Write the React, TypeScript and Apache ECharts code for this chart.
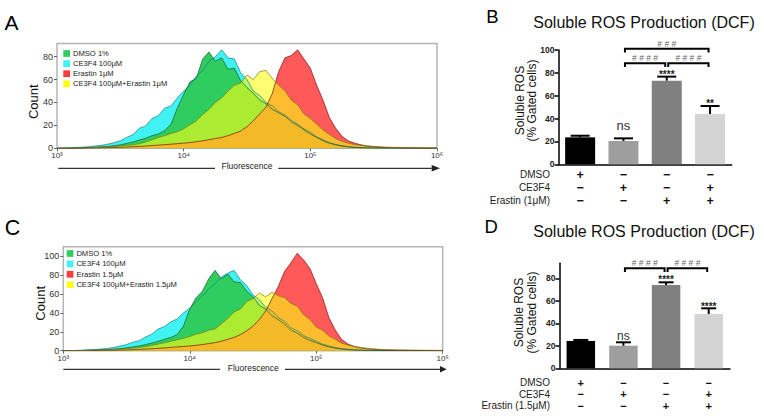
import React, { useEffect, useRef } from 'react';
import * as echarts from 'echarts';

const FONT = 'Liberation Sans, Arial, DejaVu Sans, sans-serif';

// Fluorescence bin centres (log-spaced)
const fluorBins = [1000, 1122, 1259, 1413, 1585, 1778, 1995, 2239, 2512, 2818, 3162, 3548, 3981, 4467, 5012, 5623, 6310, 7079, 7943, 8913, 10000, 11220, 12589, 14125, 15849, 17783, 19953, 22387, 25119, 28184, 31623, 35481, 39811, 44668, 50119, 56234, 63096, 70795, 79433, 89125, 100000, 112202, 125893, 141254, 158489, 177828, 199526, 223872, 251189, 281838, 316228, 354813, 398107, 446684, 501187, 562341, 630957, 707946, 794328, 891251, 1000000];
const xTickLabels = ['10³', '10⁴', '10⁵', '10⁶'];
const countTicksA = [0, 20, 40, 60, 80];
const countTicksC = [0, 20, 40, 60, 80, 100];
const rosTicksB = [0, 20, 40, 60, 80, 100];
const rosTicksD = [0, 20, 40, 60, 80];

const namesA = ['DMSO 1%', 'CE3F4 100μM', 'Erastin 1μM', 'CE3F4 100μM+Erastin 1μM'];
const namesC = ['DMSO 1%', 'CE3F4 100μM', 'Erastin 1.5μM', 'CE3F4 100μM+Erastin 1.5μM'];

// Panel A histograms
const dmsoA = [0, 0, 0, 0.2, 0.4, 0.6, 0.9, 1.3, 1.6, 2.3, 3, 4.2, 5.5, 7.2, 8.8, 11, 12.5, 15.5, 21, 35, 47, 58, 61, 78, 84, 76, 79, 69, 70, 59, 53, 48, 42, 39, 34, 31, 28, 23, 20, 16, 12.5, 9.5, 6.5, 4.5, 3, 2, 1.2, 0.8, 0.5, 0.4, 0.3, 0.2, 0.2, 0.2, 0.1, 0.1, 0.1, 0.1, 0, 0, 0];
const ce3f4A = [0, 0.2, 0.5, 0.7, 1, 1.4, 2, 2.6, 3.6, 4.8, 6.5, 9.5, 12, 17.5, 19.5, 26, 28.5, 35, 37, 44, 50, 55, 63, 68, 76, 80, 86, 79, 78, 66, 60, 50, 46, 40, 37, 32, 29, 24.5, 21, 17, 14, 10, 7.5, 5, 3.4, 2.2, 1.4, 0.9, 0.6, 0.4, 0.3, 0.2, 0.2, 0.2, 0.1, 0.1, 0.1, 0.1, 0, 0, 0];
const erastinA = [0, 0, 0, 0, 0.1, 0.2, 0.3, 0.4, 0.5, 0.7, 0.9, 1.1, 1.4, 1.7, 2, 2.4, 2.8, 3.2, 3.6, 4, 4.5, 5, 5.8, 6.5, 7.5, 8.5, 9.5, 11, 13, 15, 19, 24, 30, 36, 48, 67, 79, 81, 86, 78, 70, 55, 42, 27, 17.5, 10.5, 6.5, 4.5, 3, 2, 1.5, 1, 0.7, 0.5, 0.4, 0.3, 0.2, 0.2, 0.1, 0.1, 0];
const comboA = [0, 0, 0.1, 0.2, 0.3, 0.5, 0.7, 0.9, 1.2, 1.5, 2, 2.5, 3, 4, 5.5, 7.5, 9.5, 11, 13, 14.5, 17, 20.5, 24, 29.5, 34, 40, 44, 50, 55, 57, 64, 60, 67, 68, 61, 55, 50, 42, 38, 30, 26, 21, 16, 12, 8.5, 6, 4.5, 3.2, 2.5, 2, 1.6, 1.3, 1, 0.9, 0.8, 0.7, 0.6, 0.5, 0.5, 0.4, 0.3];

// Panel C histograms
const dmsoC = [0, 0, 0, 0.2, 0.4, 0.6, 0.9, 1.2, 1.6, 2.2, 3, 4, 5, 6.5, 8, 10, 12, 14, 17, 26, 44, 56, 63, 76, 85, 76, 81, 73, 72, 63, 57, 48, 44, 37, 33, 28, 22, 18.5, 14, 11, 8.5, 6, 4, 2.7, 1.8, 1.2, 0.7, 0.5, 0.3, 0.2, 0.2, 0.2, 0.2, 0.1, 0.1, 0.1, 0.1, 0, 0, 0, 0];
const ce3f4C = [0, 0, 0.3, 0.6, 1, 1.3, 1.8, 2.4, 3.5, 5, 6.5, 9, 10.5, 14.5, 17.5, 23, 25.5, 30.5, 33.5, 40, 45, 52, 58, 65, 71, 78, 82, 85, 75, 69, 59, 54, 46, 42, 35, 31, 24.5, 21, 16, 13, 10, 7, 5, 3.3, 2.2, 1.4, 0.9, 0.6, 0.4, 0.3, 0.2, 0.2, 0.2, 0.1, 0.1, 0.1, 0.1, 0, 0, 0, 0];
const erastinC = [0, 0, 0, 0, 0.1, 0.2, 0.3, 0.4, 0.5, 0.7, 0.9, 1.1, 1.4, 1.7, 2.1, 2.5, 3, 3.5, 4, 4.5, 5, 5.7, 6.5, 7.5, 8.5, 10, 12, 14, 17, 21, 26, 33, 42, 55, 68, 84, 93, 103, 96, 87, 71, 56, 35, 22, 12, 7, 4.5, 3, 2, 1.5, 1.1, 0.8, 0.6, 0.4, 0.3, 0.2, 0.2, 0.1, 0.1, 0, 0];
const comboC = [0, 0, 0.1, 0.2, 0.3, 0.5, 0.7, 0.9, 1.2, 1.6, 2.1, 2.7, 3.4, 4.3, 5.5, 7, 8.5, 10, 11.5, 13, 15, 17.5, 19, 21.5, 23, 28.5, 34, 41, 44, 52, 55, 61, 57, 62, 58, 56, 50, 47, 38, 33, 25, 21.5, 15.5, 12, 8, 6, 4.5, 3.5, 2.6, 2, 1.5, 1.2, 1, 0.9, 0.8, 0.7, 0.6, 0.5, 0.5, 0.4, 0.3];

// Bar panels
const treatmentRowsB = ['DMSO', 'CE3F4', 'Erastin (1μM)'];
const treatmentRowsD = ['DMSO', 'CE3F4', 'Erastin (1.5μM)'];
const dmsoSigns = ['+', '−', '−', '−'];
const ce3f4Signs = ['−', '+', '−', '+'];
const erastinSigns = ['−', '−', '+', '+'];
const barColors = ['#000000', '#9e9e9e', '#808080', '#d4d4d4'];

const rosB = [23.6, 20.4, 73.2, 44.0];
const rosErrB = [1.4, 2.3, 3.5, 7.0];
const rosD = [24.3, 20.1, 74.0, 48.3];
const rosErrD = [0.9, 3.0, 2.4, 5.0];
const sigTextB = ['', 'ns', '****', '**'];
const sigYB = [0, 34, 78.3, 52.8];
const sigTextD = ['', 'ns', '****', '****'];
const sigYD = [0, 28.3, 78.5, 54.5];
// [from, to, line level, label level]
const bracketsB = [[1, 2, 88.4, 92.7], [2, 3, 88.4, 92.7], [1, 3, 101.1, 105.5]];
const bracketLabelsB = ['# # # #', '# # # #', '# # #'];
const bracketsD = [[1, 2, 88.9, 93.2], [2, 3, 88.9, 93.2]];
const bracketLabelsD = ['# # # #', '# # # #'];

const categories = dmsoSigns.map((s, i) => [s, ce3f4Signs[i], erastinSigns[i]].join('\n'));

const histStyle = {
  dmso: { color: '#2fcc5f', line: '#145a2b', opacity: 1 },
  ce3f4: { color: '#40f2f2', line: '#168080', opacity: 1 },
  erastin: { color: '#ff3c3c', line: '#7a1010', opacity: 0.85 },
  combo: { color: '#ffff14', line: '#7a7a10', opacity: 0.6 },
};

function histSeries(name: string, values: number[], st: any, xi: number, yi: number) {
  return {
    type: 'line', name, xAxisIndex: xi, yAxisIndex: yi, silent: true,
    data: fluorBins.map((f, i) => [f, values[i]]),
    symbol: 'none', showSymbol: false,
    itemStyle: { color: st.color },
    lineStyle: { color: st.line, width: 0.7 },
    areaStyle: { color: st.color, opacity: st.opacity },
  };
}

function legendFor(names: string[], left: number, top: number, gap: number) {
  const cols = [histStyle.dmso.color, histStyle.ce3f4.color, histStyle.erastin.color, histStyle.combo.color];
  return {
    left, top, orient: 'vertical', padding: 0, itemWidth: 6.7, itemHeight: 6.7, itemGap: gap,
    icon: 'rect', selectedMode: false,
    itemStyle: { borderWidth: 0 },
    textStyle: { fontSize: 7.6, color: '#222', fontFamily: FONT, padding: [0, 0, 0, -2] },
    data: names.map((n, i) => ({ name: n, icon: 'rect', itemStyle: { color: cols[i], borderWidth: 0, opacity: 1 } })),
  };
}

function logAxis(gridIndex: number) {
  return {
    type: 'log', gridIndex, logBase: 10, min: 1000, max: 1000000,
    axisLine: { show: false },
    axisTick: { show: true, length: 3, lineStyle: { color: '#666', width: 1 } },
    axisLabel: {
      fontSize: 8, color: '#333', fontFamily: FONT, margin: 3.5,
      formatter: (v: number) => xTickLabels[Math.round(Math.log10(v)) - 3] || '',
    },
    splitLine: { show: false }, minorTick: { show: false },
  };
}

function countAxis(gridIndex: number, max: number, ticks: number[]) {
  return {
    type: 'value', gridIndex, min: 0, max, interval: 20,
    axisLine: { show: false },
    axisTick: { show: true, length: 3, customValues: ticks, lineStyle: { color: '#666', width: 1 } },
    axisLabel: {
      fontSize: 9, color: '#333', fontFamily: FONT, margin: 4, customValues: ticks,
      formatter: (v: number) => (ticks.indexOf(v) >= 0 ? String(v) : ''),
    },
    splitLine: { show: false },
  };
}

function catAxis(gridIndex: number, fontSize: number, lineHeight: number, margin: number) {
  return {
    type: 'category', gridIndex, data: categories,
    axisLine: { lineStyle: { color: '#000', width: 1.5 } },
    axisTick: { alignWithLabel: true, length: 4, lineStyle: { color: '#000', width: 1.5 } },
    axisLabel: { interval: 0, fontSize, fontWeight: 'bold', color: '#111', lineHeight, margin, fontFamily: FONT },
  };
}

function rosAxis(gridIndex: number, max: number, ticks: number[]) {
  return {
    type: 'value', gridIndex, min: 0, max, interval: 20,
    axisLine: { show: true, lineStyle: { color: '#000', width: 1.5 } },
    axisTick: { show: true, length: 4, customValues: ticks, lineStyle: { color: '#000', width: 1.5 } },
    axisLabel: {
      fontSize: 8.5, fontWeight: 'bold', color: '#222', fontFamily: FONT, margin: 4, customValues: ticks,
      formatter: (v: number) => (ticks.indexOf(v) >= 0 ? String(v) : ''),
    },
    splitLine: { show: false },
  };
}

function barSeries(values: number[], xi: number, yi: number, width: number) {
  return {
    type: 'bar', xAxisIndex: xi, yAxisIndex: yi, barWidth: width, silent: true,
    data: values.map((v, i) => ({ value: v, itemStyle: { color: barColors[i] } })),
  };
}

function errorSeries(values: number[], errs: number[], xi: number, yi: number, capHalf: number) {
  return {
    type: 'custom', xAxisIndex: xi, yAxisIndex: yi, clip: false, z: 3, silent: true,
    data: values.map((v, i) => [i, v, v + errs[i]]),
    renderItem: (_p: any, api: any) => {
      const b = api.coord([api.value(0), api.value(1)]);
      const t = api.coord([api.value(0), api.value(2)]);
      return {
        type: 'group', children: [
          { type: 'line', shape: { x1: b[0], y1: b[1], x2: t[0], y2: t[1] }, style: { stroke: '#000', lineWidth: 2 } },
          { type: 'line', shape: { x1: t[0] - capHalf, y1: t[1], x2: t[0] + capHalf, y2: t[1] }, style: { stroke: '#000', lineWidth: 2 } },
        ],
      };
    },
  };
}

function sigSeries(texts: string[], ys: number[], xi: number, yi: number, nsSize: number) {
  return {
    type: 'custom', xAxisIndex: xi, yAxisIndex: yi, clip: false, z: 4, silent: true,
    data: ys.map((y, i) => [i, y]),
    renderItem: (params: any, api: any) => {
      const label = texts[params.dataIndex];
      if (!label) return null;
      const p = api.coord([api.value(0), api.value(1)]);
      const isStar = label.indexOf('*') >= 0;
      return {
        type: 'text', x: p[0], y: p[1],
        style: {
          text: label, textAlign: 'center', textVerticalAlign: 'middle', align: 'center', verticalAlign: 'middle',
          fontSize: isStar ? 10 : nsSize, fontWeight: isStar ? 'bold' : 'normal', fontFamily: FONT,
          fill: isStar ? '#222' : '#333',
        },
      };
    },
  };
}

function bracketSeries(brs: number[][], labels: string[], xi: number, yi: number) {
  return {
    type: 'custom', xAxisIndex: xi, yAxisIndex: yi, clip: false, z: 4, silent: true,
    data: brs,
    renderItem: (params: any, api: any) => {
      const a = api.coord([api.value(0), api.value(2)]);
      const b = api.coord([api.value(1), api.value(2)]);
      const t = api.coord([api.value(0), api.value(3)]);
      const x1 = a[0] + 1.5, x2 = b[0] - 1.5, y = a[1];
      return {
        type: 'group', children: [
          { type: 'polyline', shape: { points: [[x1, y + 3.7], [x1, y], [x2, y], [x2, y + 3.7]] }, style: { stroke: '#000', lineWidth: 2, fill: 'none' } },
          {
            type: 'text', x: (a[0] + b[0]) / 2, y: t[1],
            style: { text: labels[params.dataIndex], textAlign: 'center', textVerticalAlign: 'middle', align: 'center', verticalAlign: 'middle', fontSize: 8.5, fontFamily: FONT, fill: '#666' },
          },
        ],
      };
    },
  };
}

function txt(text: string, x: number, y: number, size: number, opts: any = {}) {
  return {
    type: 'text', x, y, rotation: opts.rotation || 0, silent: true,
    style: {
      text, fontSize: size, fontFamily: FONT, fill: opts.fill || '#000', fontWeight: opts.weight || 'normal',
      textAlign: opts.align || 'center', align: opts.align || 'center',
      textVerticalAlign: 'middle', verticalAlign: 'middle',
    },
  };
}

function fluorArrow(xl1: number, xl2: number, xt: number, xr1: number, xr2: number, tip: number, y: number, ty: number) {
  return [
    { type: 'line', silent: true, shape: { x1: xl1, y1: y, x2: xl2, y2: y }, style: { stroke: '#333', lineWidth: 1.2 } },
    { type: 'line', silent: true, shape: { x1: xr1, y1: y, x2: xr2, y2: y }, style: { stroke: '#333', lineWidth: 1.2 } },
    { type: 'polygon', silent: true, shape: { points: [[xr2, y - 3.3], [tip, y], [xr2, y + 3.3]] }, style: { fill: '#222' } },
    txt('Fluorescence', xt, ty, 8.5, { fill: '#222' }),
  ];
}

export default function App() {
  const ref = useRef<HTMLDivElement>(null);
  useEffect(() => {
    if (!ref.current) return;
    const chart = echarts.init(ref.current, undefined, { renderer: 'svg' });
    const rowLabel = (t: string, y: number) => txt(t, 550, y, 10, { align: 'right', fill: '#222' });
    const option: any = {
      animation: false,
      backgroundColor: '#ffffff',
      textStyle: { fontFamily: FONT },
      grid: [
        { left: 57, top: 43.5, width: 380, height: 104.8, show: true, borderColor: '#b5b5b5', borderWidth: 1.5, backgroundColor: 'transparent', containLabel: false, outerBoundsMode: 'none' },
        { left: 558.5, top: 50, width: 173.2, height: 114.3, containLabel: false, outerBoundsMode: 'none' },
        { left: 63.3, top: 246.7, width: 379.4, height: 104, show: true, borderColor: '#b5b5b5', borderWidth: 1.5, backgroundColor: 'transparent', containLabel: false, outerBoundsMode: 'none' },
        { left: 559.5, top: 263.3, width: 170.5, height: 105, containLabel: false, outerBoundsMode: 'none' },
      ],
      legend: [legendFor(namesA, 63.3, 49.5, 2.1), legendFor(namesC, 66.7, 249.5, 2.4)],
      xAxis: [logAxis(0), catAxis(1, 12.5, 13.2, 3.6), logAxis(2), catAxis(3, 11, 11.6, 8.4)],
      yAxis: [countAxis(0, 91.5, countTicksA), rosAxis(1, 100, rosTicksB), countAxis(2, 110, countTicksC), rosAxis(3, 93.3, rosTicksD)],
      series: [
        histSeries(namesA[1], ce3f4A, histStyle.ce3f4, 0, 0),
        histSeries(namesA[0], dmsoA, histStyle.dmso, 0, 0),
        histSeries(namesA[2], erastinA, histStyle.erastin, 0, 0),
        histSeries(namesA[3], comboA, histStyle.combo, 0, 0),
        histSeries(namesC[1], ce3f4C, histStyle.ce3f4, 2, 2),
        histSeries(namesC[0], dmsoC, histStyle.dmso, 2, 2),
        histSeries(namesC[2], erastinC, histStyle.erastin, 2, 2),
        histSeries(namesC[3], comboC, histStyle.combo, 2, 2),
        barSeries(rosB, 1, 1, 30),
        errorSeries(rosB, rosErrB, 1, 1, 9.5),
        sigSeries(sigTextB, sigYB, 1, 1, 13),
        bracketSeries(bracketsB, bracketLabelsB, 1, 1),
        barSeries(rosD, 3, 3, 28.5),
        errorSeries(rosD, rosErrD, 3, 3, 7.5),
        sigSeries(sigTextD, sigYD, 3, 3, 12),
        bracketSeries(bracketsD, bracketLabelsD, 3, 3),
      ],
      graphic: [
        txt('A', 11.5, 22.5, 21),
        txt('B', 492.5, 16.7, 18.5),
        txt('C', 12.5, 228.3, 21.5),
        txt('D', 491.3, 226.7, 18.5),
        txt('Soluble ROS Production (DCF)', 644, 22.7, 16, { fill: '#111' }),
        txt('Soluble ROS Production (DCF)', 644, 231.7, 16, { fill: '#111' }),
        txt('Count', 33.7, 101.7, 13, { rotation: Math.PI / 2, fill: '#111' }),
        txt('Count', 40.5, 303.3, 13, { rotation: Math.PI / 2, fill: '#111' }),
        txt('Soluble ROS', 519.5, 100.5, 12, { rotation: Math.PI / 2, fill: '#111' }),
        txt('(% Gated cells)', 531.5, 100.5, 12, { rotation: Math.PI / 2, fill: '#111' }),
        txt('Soluble ROS', 518.5, 312.5, 12, { rotation: Math.PI / 2, fill: '#111' }),
        txt('(% Gated cells)', 531.5, 312.5, 12, { rotation: Math.PI / 2, fill: '#111' }),
        rowLabel(treatmentRowsB[0], 174.5),
        rowLabel(treatmentRowsB[1], 187.7),
        rowLabel(treatmentRowsB[2], 200.8),
        rowLabel(treatmentRowsD[0], 382.5),
        rowLabel(treatmentRowsD[1], 394),
        rowLabel(treatmentRowsD[2], 405.5),
        ...fluorArrow(58.3, 215, 247, 278.3, 431.7, 440, 168.3, 166),
        ...fluorArrow(63.3, 220, 253.3, 285, 440, 446.7, 369.3, 368),
      ],
    };
    chart.setOption(option);
    return () => chart.dispose();
  }, []);
  return <div ref={ref} style={{ position: 'fixed', left: 0, top: 0, width: 764, height: 416, background: '#fff' }} />;
}
